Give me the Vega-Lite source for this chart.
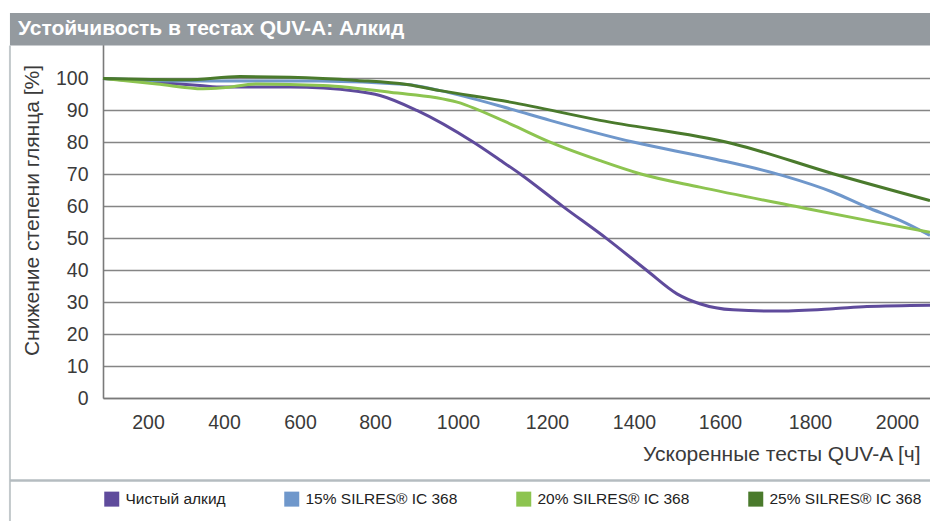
{
  "$schema": "https://vega.github.io/schema/vega-lite/v6.json",
  "autosize": {"type": "none"},
  "padding": {"left": 103, "top": 13, "right": 0, "bottom": 123},
  "width": 827,
  "height": 385,
  "background": "white",
  "config": {
    "view": {"stroke": null},
    "font": "Liberation Sans",
    "axis": {
      "ticks": false, "labelOverlap": false, "labelFlush": false,
      "domainColor": "#7a7a7a", "domainWidth": 1.6,
      "labelFont": "Liberation Sans", "labelFontSize": 19.5, "labelColor": "#3a3a3a", "labelPadding": 15,
      "titleFont": "Liberation Sans", "titleFontSize": 21, "titleFontWeight": "normal", "titleColor": "#3a3a3a"
    },
    "axisX": {"grid": false},
    "axisY": {"grid": true, "gridColor": "#858585", "gridWidth": 1.6}
  },
  "datasets": {
    "gloss": [
      {"series": "Чистый алкид", "hours": 82, "gloss": 100},
      {"series": "Чистый алкид", "hours": 337, "gloss": 97.8},
      {"series": "Чистый алкид", "hours": 397, "gloss": 97.3},
      {"series": "Чистый алкид", "hours": 574, "gloss": 97.3},
      {"series": "Чистый алкид", "hours": 752, "gloss": 96.0},
      {"series": "Чистый алкид", "hours": 812, "gloss": 94.7},
      {"series": "Чистый алкид", "hours": 901, "gloss": 90.0},
      {"series": "Чистый алкид", "hours": 1034, "gloss": 80.1},
      {"series": "Чистый алкид", "hours": 1094, "gloss": 74.5},
      {"series": "Чистый алкид", "hours": 1139, "gloss": 70.2},
      {"series": "Чистый алкид", "hours": 1237, "gloss": 59.9},
      {"series": "Чистый алкид", "hours": 1338, "gloss": 49.8},
      {"series": "Чистый алкид", "hours": 1430, "gloss": 39.9},
      {"series": "Чистый алкид", "hours": 1500, "gloss": 32.6},
      {"series": "Чистый алкид", "hours": 1553, "gloss": 29.5},
      {"series": "Чистый алкид", "hours": 1629, "gloss": 27.6},
      {"series": "Чистый алкид", "hours": 1733, "gloss": 27.2},
      {"series": "Чистый алкид", "hours": 1853, "gloss": 27.9},
      {"series": "Чистый алкид", "hours": 1931, "gloss": 28.6},
      {"series": "Чистый алкид", "hours": 2076, "gloss": 29.0},
      {"series": "15% SILRES® IC 368", "hours": 82, "gloss": 100},
      {"series": "15% SILRES® IC 368", "hours": 300, "gloss": 99.2},
      {"series": "15% SILRES® IC 368", "hours": 450, "gloss": 99.2},
      {"series": "15% SILRES® IC 368", "hours": 650, "gloss": 99.2},
      {"series": "15% SILRES® IC 368", "hours": 877, "gloss": 98.1},
      {"series": "15% SILRES® IC 368", "hours": 957, "gloss": 96.2},
      {"series": "15% SILRES® IC 368", "hours": 1117, "gloss": 90.5},
      {"series": "15% SILRES® IC 368", "hours": 1207, "gloss": 86.9},
      {"series": "15% SILRES® IC 368", "hours": 1398, "gloss": 80.1},
      {"series": "15% SILRES® IC 368", "hours": 1584, "gloss": 74.9},
      {"series": "15% SILRES® IC 368", "hours": 1740, "gloss": 69.6},
      {"series": "15% SILRES® IC 368", "hours": 1853, "gloss": 64.4},
      {"series": "15% SILRES® IC 368", "hours": 1931, "gloss": 59.7},
      {"series": "15% SILRES® IC 368", "hours": 2007, "gloss": 55.6},
      {"series": "15% SILRES® IC 368", "hours": 2076, "gloss": 50.9},
      {"series": "20% SILRES® IC 368", "hours": 82, "gloss": 100},
      {"series": "20% SILRES® IC 368", "hours": 224, "gloss": 98.3},
      {"series": "20% SILRES® IC 368", "hours": 345, "gloss": 96.8},
      {"series": "20% SILRES® IC 368", "hours": 397, "gloss": 97.1},
      {"series": "20% SILRES® IC 368", "hours": 487, "gloss": 98.3},
      {"series": "20% SILRES® IC 368", "hours": 661, "gloss": 97.8},
      {"series": "20% SILRES® IC 368", "hours": 836, "gloss": 95.7},
      {"series": "20% SILRES® IC 368", "hours": 998, "gloss": 92.6},
      {"series": "20% SILRES® IC 368", "hours": 1117, "gloss": 85.8},
      {"series": "20% SILRES® IC 368", "hours": 1207, "gloss": 80.1},
      {"series": "20% SILRES® IC 368", "hours": 1322, "gloss": 74.3},
      {"series": "20% SILRES® IC 368", "hours": 1414, "gloss": 70.2},
      {"series": "20% SILRES® IC 368", "hours": 1553, "gloss": 66.0},
      {"series": "20% SILRES® IC 368", "hours": 1778, "gloss": 59.7},
      {"series": "20% SILRES® IC 368", "hours": 1931, "gloss": 55.6},
      {"series": "20% SILRES® IC 368", "hours": 2076, "gloss": 51.9},
      {"series": "25% SILRES® IC 368", "hours": 82, "gloss": 100},
      {"series": "25% SILRES® IC 368", "hours": 300, "gloss": 99.6},
      {"series": "25% SILRES® IC 368", "hours": 442, "gloss": 100.6},
      {"series": "25% SILRES® IC 368", "hours": 574, "gloss": 100.4},
      {"series": "25% SILRES® IC 368", "hours": 752, "gloss": 99.4},
      {"series": "25% SILRES® IC 368", "hours": 877, "gloss": 98.1},
      {"series": "25% SILRES® IC 368", "hours": 957, "gloss": 96.2},
      {"series": "25% SILRES® IC 368", "hours": 1117, "gloss": 92.6},
      {"series": "25% SILRES® IC 368", "hours": 1322, "gloss": 86.9},
      {"series": "25% SILRES® IC 368", "hours": 1629, "gloss": 79.6},
      {"series": "25% SILRES® IC 368", "hours": 1853, "gloss": 70.2},
      {"series": "25% SILRES® IC 368", "hours": 2076, "gloss": 61.8}
    ]
  },
  "layer": [
    {
      "data": {"values": [{}]},
      "mark": {"type": "rect", "color": "#949a9f"},
      "encoding": {
        "x": {"datum": -162, "type": "quantitative",
          "axis": {"values": [200, 400, 600, 800, 1000, 1200, 1400, 1600, 1800, 2000], "format": "d", "title": "Ускоренные тесты QUV-A [ч]", "titleX": 817, "titleY": 56, "titleAlign": "right", "titleBaseline": "middle"}},
        "x2": {"datum": 2076},
        "y": {"datum": 110.3, "type": "quantitative",
          "axis": {"values": [0, 10, 20, 30, 40, 50, 60, 70, 80, 90, 100], "title": "Снижение степени глянца [%]", "titleX": -71, "titleY": 197, "titleAngle": -90, "titleAlign": "center", "titleBaseline": "middle"}},
        "y2": {"datum": 120.5}
      }
    },
    {
      "data": {"values": [{}]},
      "mark": {"type": "text", "text": "Устойчивость в тестах QUV-A: Алкид", "color": "white", "font": "Liberation Sans", "fontSize": 21, "fontWeight": "bold", "align": "left", "baseline": "alphabetic"},
      "encoding": {
        "x": {"datum": -141, "type": "quantitative",
          "axis": {"values": [200, 400, 600, 800, 1000, 1200, 1400, 1600, 1800, 2000], "format": "d", "title": "Ускоренные тесты QUV-A [ч]", "titleX": 817, "titleY": 56, "titleAlign": "right", "titleBaseline": "middle"}},
        "y": {"datum": 113.7, "type": "quantitative",
          "axis": {"values": [0, 10, 20, 30, 40, 50, 60, 70, 80, 90, 100], "title": "Снижение степени глянца [%]", "titleX": -71, "titleY": 197, "titleAngle": -90, "titleAlign": "center", "titleBaseline": "middle"}}
      }
    },
    {
      "data": {"values": [{}]},
      "mark": {"type": "rule", "color": "#c3c9cc", "strokeWidth": 2},
      "encoding": {
        "x": {"datum": -162, "type": "quantitative",
          "axis": {"values": [200, 400, 600, 800, 1000, 1200, 1400, 1600, 1800, 2000], "format": "d", "title": "Ускоренные тесты QUV-A [ч]", "titleX": 817, "titleY": 56, "titleAlign": "right", "titleBaseline": "middle"}},
        "y": {"datum": -39, "type": "quantitative",
          "axis": {"values": [0, 10, 20, 30, 40, 50, 60, 70, 80, 90, 100], "title": "Снижение степени глянца [%]", "titleX": -71, "titleY": 197, "titleAngle": -90, "titleAlign": "center", "titleBaseline": "middle"}},
        "y2": {"datum": 110.3}
      }
    },
    {
      "data": {"values": [{}]},
      "mark": {"type": "rule", "color": "#b5bcc0", "strokeWidth": 2.5},
      "encoding": {
        "x": {"datum": -162, "type": "quantitative",
          "axis": {"values": [200, 400, 600, 800, 1000, 1200, 1400, 1600, 1800, 2000], "format": "d", "title": "Ускоренные тесты QUV-A [ч]", "titleX": 817, "titleY": 56, "titleAlign": "right", "titleBaseline": "middle"}},
        "x2": {"datum": 2076},
        "y": {"datum": -25.8, "type": "quantitative",
          "axis": {"values": [0, 10, 20, 30, 40, 50, 60, 70, 80, 90, 100], "title": "Снижение степени глянца [%]", "titleX": -71, "titleY": 197, "titleAngle": -90, "titleAlign": "center", "titleBaseline": "middle"}}
      }
    },
    {
      "data": {"name": "gloss"},
      "mark": {"type": "line", "interpolate": "monotone", "strokeWidth": 3},
      "encoding": {
        "x": {
          "field": "hours", "type": "quantitative",
          "scale": {
            "domain": [82, 200, 400, 600, 800, 1000, 1200, 1400, 1600, 1800, 2000, 2076],
            "range": [0, 45, 121, 197, 272, 355, 444, 531, 617, 707, 794, 827],
            "nice": false, "zero": false, "clamp": false
          },
          "axis": {"values": [200, 400, 600, 800, 1000, 1200, 1400, 1600, 1800, 2000], "format": "d", "title": "Ускоренные тесты QUV-A [ч]", "titleX": 817, "titleY": 56, "titleAlign": "right", "titleBaseline": "middle"}
        },
        "y": {
          "field": "gloss", "type": "quantitative",
          "scale": {"domain": [0, 120.5], "nice": false, "zero": false},
          "axis": {"values": [0, 10, 20, 30, 40, 50, 60, 70, 80, 90, 100], "title": "Снижение степени глянца [%]", "titleX": -71, "titleY": 197, "titleAngle": -90, "titleAlign": "center", "titleBaseline": "middle"}
        },
        "color": {
          "field": "series", "type": "nominal",
          "scale": {
            "domain": ["Чистый алкид", "15% SILRES® IC 368", "20% SILRES® IC 368", "25% SILRES® IC 368"],
            "range": ["#5f4b9c", "#6f97cb", "#8dc450", "#4a7a2c"]
          },
          "legend": {
            "orient": "none", "legendX": 1, "legendY": 478,
            "direction": "horizontal", "columns": 4, "title": null,
            "symbolType": "square", "symbolSize": 225, "symbolStrokeWidth": 0,
            "labelFont": "Liberation Sans", "labelFontSize": 15.5, "labelColor": "#222222",
            "labelOffset": 6, "columnPadding": 58,
            "encode": {"symbols": {"update": {"fill": {"scale": "color", "field": "value"}, "fillOpacity": {"value": 1}, "stroke": {"value": "transparent"}}}}
          }
        }
      }
    }
  ]
}
